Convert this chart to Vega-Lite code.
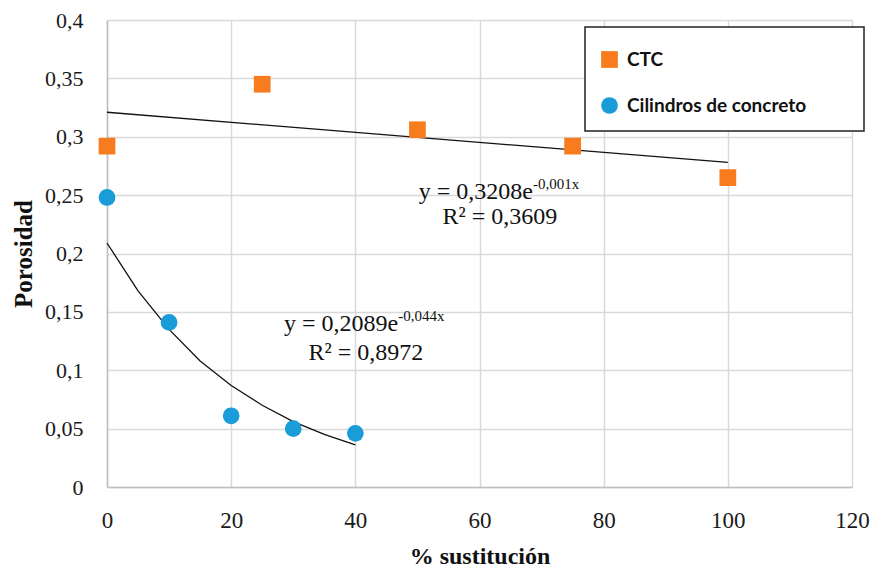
{
  "$schema": "https://vega.github.io/schema/vega-lite/v6.json",
  "width": 745,
  "height": 467,
  "autosize": {"type": "none"},
  "padding": {"left": 107, "top": 20, "right": 31, "bottom": 88},
  "background": "white",
  "config": {
    "view": {"stroke": null},
    "axis": {
      "gridColor": "#d9d9d9",
      "gridWidth": 1.5,
      "domainColor": "#bfbfbf",
      "domainWidth": 1.5,
      "ticks": false,
      "labelColor": "#1a1a1a",
      "titleColor": "#111111"
    },
    "legend": {
      "strokeColor": "#222222",
      "strokeWidth": 1.5,
      "fillColor": "white"
    }
  },
  "datasets": {
    "pts": [
      {"x": 0, "y": 0.292, "s": "CTC"},
      {"x": 25, "y": 0.345, "s": "CTC"},
      {"x": 50, "y": 0.306, "s": "CTC"},
      {"x": 75, "y": 0.292, "s": "CTC"},
      {"x": 100, "y": 0.265, "s": "CTC"},
      {"x": 0, "y": 0.248, "s": "Cilindros de concreto"},
      {"x": 10, "y": 0.141, "s": "Cilindros de concreto"},
      {"x": 20, "y": 0.061, "s": "Cilindros de concreto"},
      {"x": 30, "y": 0.050, "s": "Cilindros de concreto"},
      {"x": 40, "y": 0.046, "s": "Cilindros de concreto"}
    ],
    "trend": [
      {"x": 0, "y": 0.321, "s": "CTC"},
      {"x": 50, "y": 0.2995, "s": "CTC"},
      {"x": 100, "y": 0.278, "s": "CTC"},
      {"x": 0, "y": 0.209, "s": "Cil"},
      {"x": 5, "y": 0.168, "s": "Cil"},
      {"x": 10, "y": 0.135, "s": "Cil"},
      {"x": 15, "y": 0.108, "s": "Cil"},
      {"x": 20, "y": 0.087, "s": "Cil"},
      {"x": 25, "y": 0.070, "s": "Cil"},
      {"x": 30, "y": 0.056, "s": "Cil"},
      {"x": 35, "y": 0.045, "s": "Cil"},
      {"x": 40, "y": 0.036, "s": "Cil"}
    ],
    "ann": [
      {"x": 68.6, "y": 0.2527, "t": "y = 0,3208e", "k": "main"},
      {"x": 68.6, "y": 0.2527, "t": "-0,001x", "k": "sup"},
      {"x": 63.3, "y": 0.2313, "t": "R² = 0,3609", "k": "r2"},
      {"x": 46.9, "y": 0.1396, "t": "y = 0,2089e", "k": "main"},
      {"x": 46.9, "y": 0.1396, "t": "-0,044x", "k": "sup"},
      {"x": 41.7, "y": 0.1148, "t": "R² = 0,8972", "k": "r2"}
    ]
  },
  "layer": [
    {
      "data": {"name": "trend"},
      "mark": {"type": "line", "color": "#111111", "strokeWidth": 1.3},
      "encoding": {
        "x": {
          "field": "x", "type": "quantitative",
          "scale": {"domain": [0, 120], "nice": false},
          "axis": {
            "values": [0, 20, 40, 60, 80, 100, 120],
            "labelFlush": false,
            "labelPadding": 22,
            "titlePadding": 12,
            "labelFont": "Liberation Serif",
            "labelFontSize": 23,
            "titleFont": "Liberation Serif",
            "titleFontSize": 24,
            "titleFontWeight": "bold"
          },
          "title": "% sustitución"
        },
        "y": {
          "field": "y", "type": "quantitative",
          "scale": {"domain": [0, 0.4], "nice": false},
          "axis": {
            "values": [0, 0.05, 0.1, 0.15, 0.2, 0.25, 0.3, 0.35, 0.4],
            "labelExpr": "replace(format(datum.value, '.2~f'), '.', ',')",
            "labelFlush": false,
            "labelPadding": 24,
            "titlePadding": 8,
            "labelFont": "Liberation Serif",
            "labelFontSize": 22,
            "titleFont": "Liberation Serif",
            "titleFontSize": 25,
            "titleFontWeight": "bold"
          },
          "title": "Porosidad"
        },
        "detail": {"field": "s"}
      }
    },
    {
      "data": {"name": "pts"},
      "mark": {"type": "point", "filled": true, "opacity": 1, "size": 280},
      "encoding": {
        "x": {"field": "x", "type": "quantitative"},
        "y": {"field": "y", "type": "quantitative"},
        "color": {
          "field": "s", "type": "nominal", "title": "\u2800",
          "scale": {"domain": ["CTC", "Cilindros de concreto"], "range": ["#F87B1E", "#1A9CD8"]},
          "legend": {
            "orient": "none",
            "legendX": 478,
            "legendY": 7,
            "padding": 15,
            "rowPadding": 26,
            "titleFontSize": 8,
            "titlePadding": 0,
            "labelFont": "Lato",
            "labelFontWeight": "bold",
            "labelFontSize": 19,
            "labelColor": "#111111",
            "labelOffset": 8,
            "labelLimit": 400,
            "symbolSize": 280,
            "labelExpr": "datum.label == 'CTC' ? 'CTC' : datum.label + '\u2800\u2800\u2800'"
          }
        },
        "shape": {
          "field": "s", "type": "nominal", "title": "\u2800",
          "scale": {"domain": ["CTC", "Cilindros de concreto"], "range": ["square", "circle"]}
        }
      }
    },
    {
      "data": {"name": "ann"},
      "transform": [{"filter": "datum.k == 'main'"}],
      "mark": {"type": "text", "align": "right", "baseline": "middle", "font": "Liberation Serif", "fontSize": 24, "color": "#111111"},
      "encoding": {
        "x": {"field": "x", "type": "quantitative"},
        "y": {"field": "y", "type": "quantitative"},
        "text": {"field": "t"}
      }
    },
    {
      "data": {"name": "ann"},
      "transform": [{"filter": "datum.k == 'sup'"}],
      "mark": {"type": "text", "align": "left", "baseline": "middle", "dy": -8, "font": "Liberation Serif", "fontSize": 15, "color": "#111111"},
      "encoding": {
        "x": {"field": "x", "type": "quantitative"},
        "y": {"field": "y", "type": "quantitative"},
        "text": {"field": "t"}
      }
    },
    {
      "data": {"name": "ann"},
      "transform": [{"filter": "datum.k == 'r2'"}],
      "mark": {"type": "text", "align": "center", "baseline": "middle", "font": "Liberation Serif", "fontSize": 24, "color": "#111111"},
      "encoding": {
        "x": {"field": "x", "type": "quantitative"},
        "y": {"field": "y", "type": "quantitative"},
        "text": {"field": "t"}
      }
    }
  ]
}
